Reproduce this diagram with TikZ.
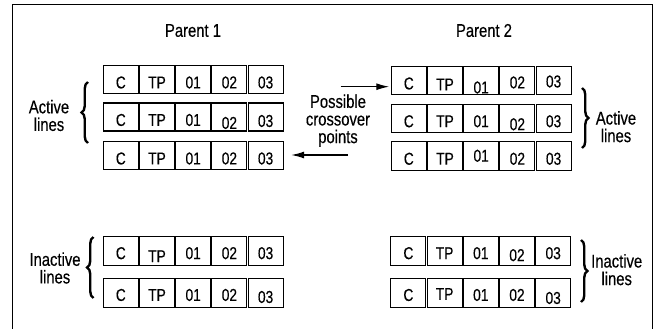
\documentclass[tikz,border=0pt]{standalone}
\usepackage{fontspec}
\setmainfont{Liberation Sans}[FakeStretch=0.8,FakeBold=0.3]
\usetikzlibrary{arrows.meta,decorations.pathreplacing}
\newcommand\cellrow[5]{%
  \foreach \t/\s [count=\i] in {#5}{%
    \node[cell, minimum height=#4pt] (#1c\i) at ({#2+36.2*\i-18.1},{#3}) {\raisebox{-\s pt}{\t}};
  }}
\begin{document}
\begin{tikzpicture}[x=1pt,y=-1pt,
  cell/.style={draw, line width=1.1pt, minimum width=35pt, inner sep=0pt,
    text height=17.8pt, text depth=0pt, font=\fontsize{17.2}{18}\selectfont},
  lbl/.style={font=\fontsize{18.5}{17.6}\selectfont, align=center, inner sep=0pt},
  arr/.style={-{Latex[length=13pt,width=7pt]}, line width=1.3pt},
  brc/.style={decorate, decoration={brace, amplitude=6.5pt}, line width=2.4pt}]
\useasboundingbox (0,0) rectangle (656,329);
% frame
\draw[line width=1.5pt] (12.5,329) -- (12.5,4.5) -- (652.5,4.5) -- (652.5,329);
% titles
\node[lbl] (par1) at (193,30.5) {Parent 1};
\node[lbl] (par2) at (484,30.5) {Parent 2};
% parent 1 rows
\cellrow{p1r1}{102.7}{79.5}{28}{C/0,TP/0,01/0,02/0,03/0}
\cellrow{p1r2}{102.7}{117}{28}{C/0,TP/0,01/0,02/3,03/1}
\cellrow{p1r3}{102.7}{155.5}{28.5}{C/0,TP/0,01/0,02/0,03/0}
\cellrow{p1r4}{102.7}{251.2}{29.3}{C/-1,TP/2,01/-1,02/-1,03/-1}
\cellrow{p1r5}{102.7}{293}{29.3}{C/-1,TP/-1,01/-1,02/-1,03/1}
% parent 2 rows
\cellrow{p2r1}{390.7}{80.5}{28}{C/0,TP/1,01/4,02/-1,03/-2}
\cellrow{p2r2}{390.7}{118.3}{28}{C/0,TP/0,01/0,02/3,03/0}
\cellrow{p2r3}{390.7}{155.8}{28.5}{C/0,TP/0,01/-3,02/0,03/0}
\cellrow{p2r4}{390.3}{251.2}{29.3}{C/-1,TP/-1,01/-1,02/1,03/-1}
\cellrow{p2r5}{390.3}{293}{29.3}{C/-1,TP/-2,01/-1,02/-1,03/2}
% labels
\node[lbl] (actL) at (49,115.5) {Active\\lines};
\node[lbl] (actR) at (616,126.7) {Active\\lines};
\node[lbl] (inaL) at (55,268) {Inactive\\lines};
\node[lbl] (inaR) at (616.7,269.7) {Inactive\\lines};
\node[lbl] (cross) at (338,120.7) {Possible\\crossover\\points};
% braces
\coordinate (bLa) at (88,143); \coordinate (bLb) at (88,82);
\coordinate (bRa) at (582,88); \coordinate (bRb) at (582,148);
\coordinate (bIa) at (93.5,298); \coordinate (bIb) at (93.5,237);
\coordinate (bJa) at (581,240); \coordinate (bJb) at (581,302);
\draw[brc] (bLa) -- (bLb);
\draw[brc] (bRa) -- (bRb);
\draw[brc] (bIa) -- (bIb);
\draw[brc] (bJa) -- (bJb);
% arrows
\coordinate (aU) at (340.7,86.7);
\coordinate (aD) at (348,155);
\draw[arr, shorten >=1.5pt] (aU) -- (aU -| p2r1c1.west);
\draw[arr, shorten >=7.5pt] (aD) -- (aD -| p1r3c5.east);
\end{tikzpicture}
\end{document}
